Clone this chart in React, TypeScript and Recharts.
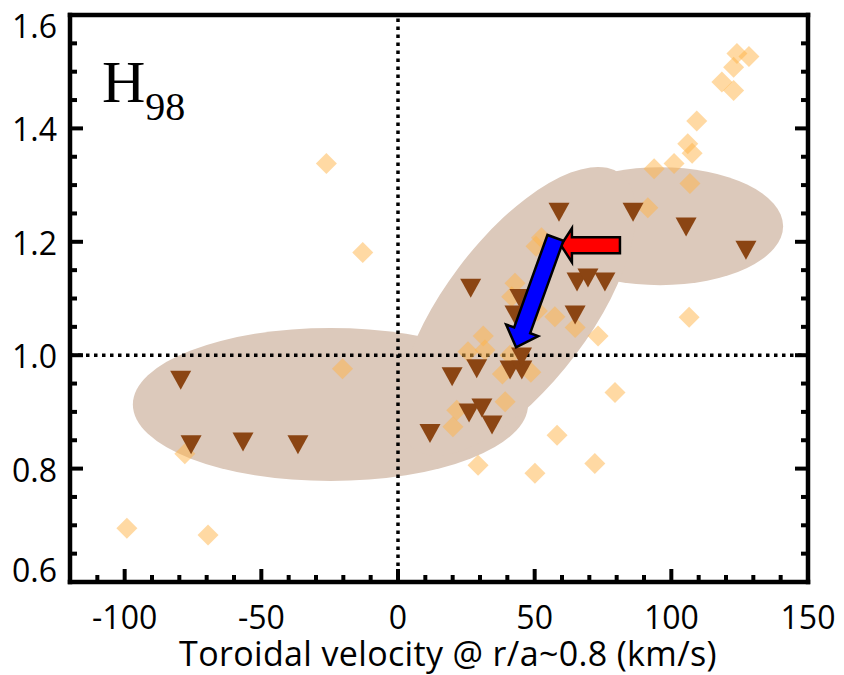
import React from "react";
import { ScatterChart, Scatter, XAxis, YAxis, ReferenceLine, ReferenceArea } from "recharts";

// axis ticks (minor + major), labels only on the majors
const xTicks = [-120, -110, -100, -90, -80, -70, -60, -50, -40, -30, -20, -10, 0, 10, 20, 30, 40, 50, 60, 70, 80, 90, 100, 110, 120, 130, 140, 150];
const xLabelTicks = [-100, -50, 0, 50, 100, 150];
const yTicks = [0.6, 0.65, 0.7, 0.75, 0.8, 0.85, 0.9, 0.95, 1.0, 1.05, 1.1, 1.15, 1.2, 1.25, 1.3, 1.35, 1.4, 1.45, 1.5, 1.55, 1.6];
const yLabelTicks = [0.6, 0.8, 1.0, 1.2, 1.4, 1.6];

// brown down-triangles
const triangles = [
  { x: -79.5, y: 0.956 },
  { x: -75.7, y: 0.842 },
  { x: -56.7, y: 0.847 },
  { x: -36.6, y: 0.842 },
  { x: 11.7, y: 0.862 },
  { x: 19.8, y: 0.962 },
  { x: 26.6, y: 1.118 },
  { x: 28.8, y: 0.976 },
  { x: 26.0, y: 0.898 },
  { x: 30.7, y: 0.907 },
  { x: 34.4, y: 0.877 },
  { x: 41.0, y: 0.974 },
  { x: 45.3, y: 0.974 },
  { x: 45.2, y: 0.997 },
  { x: 42.8, y: 1.071 },
  { x: 44.6, y: 1.1 },
  { x: 58.9, y: 1.252 },
  { x: 65.5, y: 1.129 },
  { x: 69.5, y: 1.136 },
  { x: 75.7, y: 1.129 },
  { x: 64.8, y: 1.071 },
  { x: 86.0, y: 1.252 },
  { x: 105.4, y: 1.226 },
  { x: 127.3, y: 1.185 },
];

// light orange diamonds
const diamonds = [
  { x: -26.2, y: 1.338 },
  { x: -12.9, y: 1.181 },
  { x: -20.3, y: 0.976 },
  { x: -99.2, y: 0.695 },
  { x: -69.5, y: 0.683 },
  { x: -78.0, y: 0.826 },
  { x: 50.5, y: 1.192 },
  { x: 52.5, y: 1.207 },
  { x: 42.8, y: 1.127 },
  { x: 41.6, y: 1.103 },
  { x: 57.4, y: 1.068 },
  { x: 51.0, y: 1.078 },
  { x: 64.8, y: 1.049 },
  { x: 73.2, y: 1.034 },
  { x: 31.2, y: 1.034 },
  { x: 25.6, y: 1.006 },
  { x: 31.8, y: 1.009 },
  { x: 41.0, y: 1.0 },
  { x: 38.2, y: 0.967 },
  { x: 48.6, y: 0.97 },
  { x: 21.5, y: 0.903 },
  { x: 20.1, y: 0.874 },
  { x: 39.2, y: 0.918 },
  { x: 29.3, y: 0.806 },
  { x: 50.1, y: 0.792 },
  { x: 58.2, y: 0.859 },
  { x: 72.0, y: 0.809 },
  { x: 79.4, y: 0.934 },
  { x: 91.4, y: 1.26 },
  { x: 93.7, y: 1.329 },
  { x: 101.0, y: 1.338 },
  { x: 106.8, y: 1.303 },
  { x: 106.0, y: 1.373 },
  { x: 107.6, y: 1.356 },
  { x: 109.3, y: 1.413 },
  { x: 118.5, y: 1.482 },
  { x: 122.8, y: 1.467 },
  { x: 122.8, y: 1.508 },
  { x: 124.0, y: 1.532 },
  { x: 128.4, y: 1.527 },
  { x: 106.5, y: 1.067 },
];

// shaded regions (data units)
const lowRegion = { x1: -97, x2: 47.6, y1: 0.778, y2: 1.048 };
const highRegion = { x1: 50.9, x2: 140.9, y1: 1.1235, y2: 1.3315 };
// tilted region: ends of its long axis
const tiltRegion = { x1: 5.7, y1: 0.835, x2: 81.4, y2: 1.32 };

// arrows: tail -> tip
const redArrow = [{ x: 81.2, y: 1.194 }, { x: 59.6, y: 1.194 }];
const blueArrow = [{ x: 57.6, y: 1.207 }, { x: 43.2, y: 1.014 }];

const SHADE = "#DCC9BB";
const FONT = "Open Sans";

const isMajor = (v: number, list: number[]) => list.some((t) => Math.abs(t - v) < 1e-6);

const BottomTick = (props: any) => {
  const { x, y, payload } = props;
  const major = isMajor(payload.value, xLabelTicks);
  return (
    <g>
      <line x1={x} y1={y} x2={x} y2={y - (major ? 13 : 7)} stroke="#000" strokeWidth={4} />
      {major && (
        <text x={x} y={y + 47} textAnchor="middle" fontSize={32} fontFamily={FONT} fill="#000">
          {payload.value}
        </text>
      )}
    </g>
  );
};

const TopTick = (props: any) => {
  const { x, y, payload } = props;
  const major = isMajor(payload.value, xLabelTicks);
  return <line x1={x} y1={y} x2={x} y2={y + (major ? 13 : 7)} stroke="#000" strokeWidth={4} />;
};

const LeftTick = (props: any) => {
  const { x, y, payload } = props;
  const v = Number(payload.value);
  const major = isMajor(v, yLabelTicks);
  // end labels sit a little inside the frame, as in the original
  const shift = Math.abs(v - 1.6) < 1e-6 ? 11 : Math.abs(v - 0.6) < 1e-6 ? -12 : 1.5;
  return (
    <g>
      <line x1={x} y1={y} x2={x + (major ? 13 : 7)} y2={y} stroke="#000" strokeWidth={4} />
      {major && (
        <text x={x - 13} y={y + 11.5 + shift} textAnchor="end" fontSize={32} fontFamily={FONT} fill="#000">
          {v.toFixed(1)}
        </text>
      )}
    </g>
  );
};

const RightTick = (props: any) => {
  const { x, y, payload } = props;
  const major = isMajor(payload.value, yLabelTicks);
  return <line x1={x} y1={y} x2={x - (major ? 13 : 7)} y2={y} stroke="#000" strokeWidth={4} />;
};

const EllipseShape = (props: any) => {
  const { x, y, width, height } = props;
  return <ellipse cx={x + width / 2} cy={y + height / 2} rx={width / 2} ry={height / 2} fill={SHADE} />;
};

const TiltedShape = (props: any) => {
  const { x, y, width, height } = props;
  const cx = x + width / 2;
  const cy = y + height / 2;
  const rx = Math.hypot(width, height) / 2;
  const ang = (-Math.atan2(height, width) * 180) / Math.PI;
  return <ellipse cx={cx} cy={cy} rx={rx} ry={rx * 0.424} fill={SHADE} transform={`rotate(${ang} ${cx} ${cy})`} />;
};

const arrowShape = (color: string, shaftW: number, headW: number, headL: number) => (props: any) => {
  const { x1, y1, x2, y2 } = props;
  const len = Math.hypot(x2 - x1, y2 - y1);
  const ux = (x2 - x1) / len;
  const uy = (y2 - y1) / len;
  const nx = -uy;
  const ny = ux;
  const bx = x2 - ux * headL;
  const by = y2 - uy * headL;
  const s = shaftW / 2;
  const h = headW / 2;
  const pts = [
    [x1 + nx * s, y1 + ny * s],
    [bx + nx * s, by + ny * s],
    [bx + nx * h, by + ny * h],
    [x2, y2],
    [bx - nx * h, by - ny * h],
    [bx - nx * s, by - ny * s],
    [x1 - nx * s, y1 - ny * s],
  ];
  return (
    <polygon
      points={pts.map((p) => `${p[0]},${p[1]}`).join(" ")}
      fill={color}
      stroke="#000"
      strokeWidth={2.5}
      strokeLinejoin="miter"
    />
  );
};

const Triangle = (props: any) => {
  const { cx, cy } = props;
  return <polygon points={`${cx - 10.5},${cy - 9.5} ${cx + 10.5},${cy - 9.5} ${cx},${cy + 9.5}`} fill="#8B4513" />;
};

const Diamond = (props: any) => {
  const { cx, cy } = props;
  return (
    <polygon
      points={`${cx},${cy - 10.5} ${cx + 10.5},${cy} ${cx},${cy + 10.5} ${cx - 10.5},${cy}`}
      fill="#FFB347"
      fillOpacity={0.5}
    />
  );
};

const axisStroke = { stroke: "#000", strokeWidth: 4.5, strokeLinecap: "square" as const };

export default function App() {
  return (
    <div style={{ width: 844, height: 675 }}>
      <style>{"body{margin:0}"}</style>
      <ScatterChart width={844} height={675} margin={{ top: 14, right: 35, bottom: 0, left: 0 }}>
        <XAxis
          type="number"
          dataKey="x"
          domain={[-120, 150]}
          ticks={xTicks}
          interval={0}
          allowDataOverflow
          height={93}
          tickSize={0}
          tickMargin={0}
          tickLine={false}
          tick={<BottomTick />}
          axisLine={axisStroke}
          label={(p: any) => {
            const vb = p.viewBox;
            return (
              <text
                x={vb.x + vb.width / 2 + 9}
                y={vb.y + 84}
                textAnchor="middle"
                fontSize={34}
                letterSpacing={0.35}
                fontFamily={FONT}
                fill="#000"
              >
                Toroidal velocity @ r/a~0.8 (km/s)
              </text>
            );
          }}
        />
        <XAxis
          xAxisId="top"
          orientation="top"
          type="number"
          domain={[-120, 150]}
          ticks={xTicks}
          interval={0}
          allowDataOverflow
          height={1}
          tickSize={0}
          tickMargin={0}
          tickLine={false}
          tick={<TopTick />}
          axisLine={axisStroke}
          label={(p: any) => {
            const vb = p.viewBox;
            return (
              <text x={vb.x + 32} y={vb.y + 88} fontFamily="Liberation Serif" fill="#000" fontSize={60}>
                H
                <tspan fontSize={40} dy={18}>98</tspan>
              </text>
            );
          }}
        />
        <YAxis
          type="number"
          dataKey="y"
          domain={[0.6, 1.6]}
          ticks={yTicks}
          interval={0}
          allowDataOverflow
          width={70}
          tickSize={0}
          tickMargin={0}
          tickLine={false}
          tick={<LeftTick />}
          axisLine={axisStroke}
        />
        <YAxis
          yAxisId="right"
          orientation="right"
          type="number"
          domain={[0.6, 1.6]}
          ticks={yTicks}
          interval={0}
          allowDataOverflow
          width={1}
          tickSize={0}
          tickMargin={0}
          tickLine={false}
          tick={<RightTick />}
          axisLine={axisStroke}
        />

        <ReferenceArea {...lowRegion} shape={EllipseShape} zIndex={50} />
        <ReferenceArea {...highRegion} shape={EllipseShape} zIndex={50} />
        <ReferenceArea {...tiltRegion} shape={TiltedShape} zIndex={50} />

        <ReferenceLine x={0} stroke="#000" strokeWidth={3.5} strokeDasharray="3.5 4.5" zIndex={60} />
        <ReferenceLine y={1} stroke="#000" strokeWidth={3.5} strokeDasharray="3.5 4.5" zIndex={60} />

        <Scatter name="diamonds" data={diamonds} shape={Diamond} isAnimationActive={false} zIndex={600} />
        <Scatter name="triangles" data={triangles} shape={Triangle} isAnimationActive={false} zIndex={610} />

        <ReferenceLine segment={redArrow} shape={arrowShape("#FF0000", 16, 34, 11)} zIndex={2100} />
        <ReferenceLine segment={blueArrow} shape={arrowShape("#0000FF", 17, 34, 18)} zIndex={2100} />
      </ScatterChart>
    </div>
  );
}
